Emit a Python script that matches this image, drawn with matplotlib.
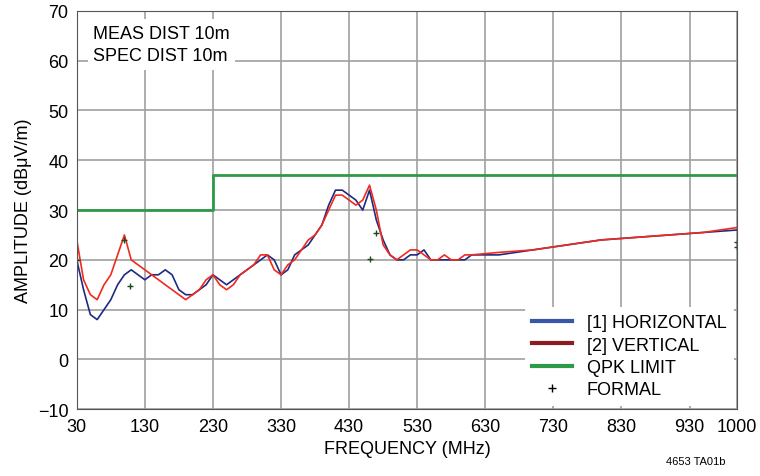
import matplotlib
matplotlib.use("Agg")
import matplotlib.pyplot as plt
from matplotlib.lines import Line2D

plt.rcParams["font.family"] = ["Liberation Sans", "DejaVu Sans"]

freq = [30, 40, 50, 60, 70, 80, 90, 100, 110, 120, 130, 140, 150, 160, 170, 180, 190, 200,
        210, 220, 230, 240, 250, 260, 270, 280, 290, 300, 310, 320, 330, 340, 350, 360, 370,
        380, 390, 400, 410, 420, 430, 440, 450, 460, 470, 480, 490, 500, 510, 520, 530, 540,
        550, 560, 570, 580, 590, 600, 610, 650, 700, 750, 800, 850, 900, 950, 1000]
horizontal = [20, 14, 9, 8, 10, 12, 15, 17, 18, 17, 16, 17, 17, 18, 17, 14, 13, 13,
              14, 15, 17, 16, 15, 16, 17, 18, 19, 20, 21, 20, 17, 18, 21, 22, 23,
              25, 27, 31, 34, 34, 33, 32, 30, 34, 28, 24, 21, 20, 20, 21, 21, 22,
              20, 20, 20, 20, 20, 20, 21, 21, 22, 23, 24, 24.5, 25, 25.5, 26]
vertical = [24, 16, 13, 12, 15, 17, 21, 25, 20, 19, 18, 17, 16, 15, 14, 13, 12, 13,
            14, 16, 17, 15, 14, 15, 17, 18, 19, 21, 21, 18, 17, 19, 20, 22, 24,
            25, 27, 30, 33, 33, 32, 31, 32, 35, 30, 23, 21, 20, 21, 22, 22, 21,
            20, 20, 21, 20, 20, 21, 21, 21.5, 22, 23, 24, 24.5, 25, 25.5, 26.5]
limit_freq = [30, 230, 230, 1000]
limit_val = [30, 30, 37, 37]
formal_freq = [30, 100, 108, 461, 470, 1000, 1000]
formal_val = [20, 24, 14.7, 20.2, 25.4, 23.5, 22.5]

fig, ax = plt.subplots(figsize=(7.6, 4.77), dpi=100)
fig.subplots_adjust(left=0.101, right=0.97, top=0.975, bottom=0.14)

ax.plot(freq, horizontal, color="#1f2a80", lw=1.2)
ax.plot(freq, vertical, color="#f02a1e", lw=1.2)
ax.plot(limit_freq, limit_val, color="#2e9a48", lw=2)
ax.plot(formal_freq, formal_val, "+", color="#1a4a20", ms=5, mew=1)

ax.set_xlim(30, 1000)
ax.set_ylim(-10, 70)
ax.set_xticks([30, 130, 230, 330, 430, 530, 630, 730, 830, 930, 1000])
ax.set_yticks(range(-10, 71, 10))
ax.tick_params(labelsize=13, length=0, pad=6)
ax.grid(True, color="#a0a0a0", lw=1.2)
for s in ax.spines.values():
    s.set_color("#555555")
ax.set_xlabel("FREQUENCY (MHz)", fontsize=13)
ax.set_ylabel("AMPLITUDE (dBμV/m)", fontsize=13)

ax.text(0.025, 0.965, "MEAS DIST 10m\nSPEC DIST 10m", transform=ax.transAxes, fontsize=13,
        va="top", linespacing=1.4, bbox=dict(facecolor="white", edgecolor="none", pad=4))

handles = [Line2D([], [], color="#3a56a8", lw=3),
           Line2D([], [], color="#8e1b22", lw=3),
           Line2D([], [], color="#2e9a48", lw=3),
           Line2D([], [], color="black", marker="+", ls="none", ms=6)]
labels = ["[1] HORIZONTAL", "[2] VERTICAL", "QPK LIMIT", "FORMAL"]
ax.legend(handles, labels, loc="lower right", fontsize=13, frameon=True, framealpha=1,
          edgecolor="none", handlelength=2.2, borderaxespad=0.2, labelspacing=0.3)
fig.text(0.955, 0.025, "4653 TA01b", fontsize=8, ha="right")

fig.savefig("out.png", dpi=100)
